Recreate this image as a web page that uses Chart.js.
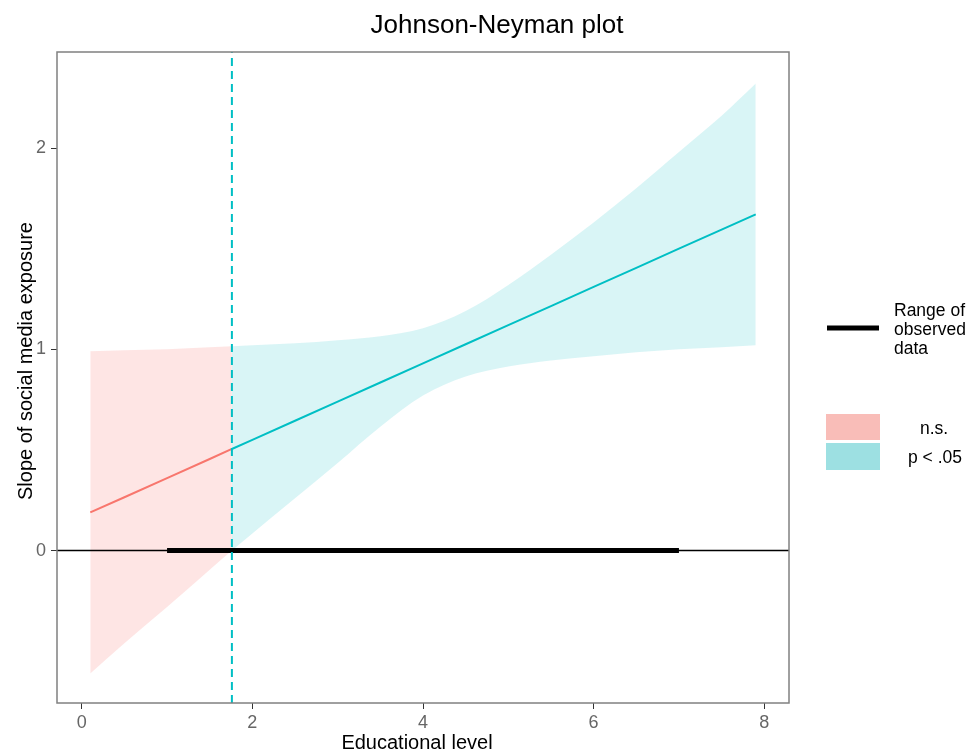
<!DOCTYPE html>
<html>
<head>
<meta charset="utf-8">
<script src="https://cdn.jsdelivr.net/npm/chart.js@4/dist/chart.umd.min.js"></script>
<style>
  html, body { margin: 0; padding: 0; background: #ffffff; }
  #wrap { width: 970px; height: 756px; position: relative; }
</style>
</head>
<body>
<div id="wrap"><canvas id="c" width="970" height="756"></canvas></div>
<script>
// ---- data ----
const moderatorValues = [0.1, 0.5, 1.0, 1.5, 1.76, 2.0, 2.5, 3.0, 3.5, 4.0, 4.5, 5.0, 5.5, 6.0, 6.5, 7.0, 7.5, 7.9];
const slopeValues     = [0.19, 0.265, 0.36, 0.455, 0.505, 0.55, 0.645, 0.74, 0.835, 0.93, 1.025, 1.12, 1.215, 1.31, 1.405, 1.50, 1.595, 1.67];
const lowerCI         = [-0.61, -0.46, -0.28, -0.095, 0.0, 0.085, 0.26, 0.435, 0.615, 0.77, 0.865, 0.915, 0.945, 0.965, 0.985, 1.0, 1.01, 1.02];
const upperCI         = [0.99, 0.995, 1.0, 1.01, 1.015, 1.02, 1.03, 1.045, 1.065, 1.105, 1.19, 1.32, 1.47, 1.63, 1.80, 1.98, 2.16, 2.32];
const jnPoint = 1.76;
const observedRange = [1.0, 7.0];
const xTicks = [0, 2, 4, 6, 8];
const yTicks = [0, 1, 2];
const xLimits = [-0.29, 8.29];
const yLimits = [-0.757, 2.477];
const titleText = 'Johnson-Neyman plot';
const xTitle = 'Educational level';
const yTitle = 'Slope of social media exposure';
const legendRangeLabel = ['Range of', 'observed', 'data'];
const legendSigLabels = ['n.s.', 'p < .05'];

// ---- build series ----
const pts = (ys, test) => moderatorValues.map((x, i) => ({x: x, y: ys[i]})).filter(p => test(p.x));
const isNS = x => x <= jnPoint;
const isSig = x => x >= jnPoint;

const RED = '#F8766D', CYAN = '#00BFC4';
const FONT = "'Liberation Sans', Arial, Helvetica, sans-serif";

const ribbon = { borderWidth: 0, pointRadius: 0, cubicInterpolationMode: 'monotone' };
const datasets = [
  // n.s. ribbon
  Object.assign({ data: pts(upperCI, isNS), fill: '+1', backgroundColor: 'rgba(248,118,109,0.19)', order: 20 }, ribbon),
  Object.assign({ data: pts(lowerCI, isNS), fill: false, order: 21 }, ribbon),
  // significant ribbon
  Object.assign({ data: pts(upperCI, isSig), fill: '+1', backgroundColor: 'rgba(0,191,196,0.15)', order: 18 }, ribbon),
  Object.assign({ data: pts(lowerCI, isSig), fill: false, order: 19 }, ribbon),
  // slope lines
  { data: pts(slopeValues, isNS), borderColor: RED, borderWidth: 2, pointRadius: 0, fill: false, order: 10 },
  { data: pts(slopeValues, isSig), borderColor: CYAN, borderWidth: 2, pointRadius: 0, fill: false, order: 9 },
  // zero line
  { data: [{x: xLimits[0], y: 0}, {x: xLimits[1], y: 0}], borderColor: '#000', borderWidth: 1.5, pointRadius: 0, fill: false, order: 6 },
  // range of observed data
  { data: [{x: observedRange[0], y: 0}, {x: observedRange[1], y: 0}], borderColor: '#000', borderWidth: 5, pointRadius: 0, fill: false, order: 5, borderCapStyle: 'butt' },
  // JN boundary
  { data: [{x: jnPoint, y: yLimits[0]}, {x: jnPoint, y: yLimits[1]}], borderColor: CYAN, borderWidth: 2, borderDash: [8, 5], pointRadius: 0, fill: false, order: 2 }
];

const decor = {
  id: 'decor',
  afterDatasetsDraw(chart) {
    const ctx = chart.ctx, a = chart.chartArea;
    ctx.save();
    ctx.strokeStyle = '#808080';
    ctx.lineWidth = 1.5;
    ctx.strokeRect(a.left, a.top, a.right - a.left, a.bottom - a.top);
    ctx.restore();
  },
  afterDraw(chart) {
    const ctx = chart.ctx;
    ctx.save();
    ctx.fillStyle = '#000';
    ctx.font = '26px ' + FONT;
    ctx.textAlign = 'center';
    ctx.textBaseline = 'alphabetic';
    ctx.fillText(titleText, 497, 33);
    ctx.font = '20px ' + FONT;
    ctx.fillText(xTitle, 417, 749);
    ctx.save();
    ctx.translate(32, 361);
    ctx.rotate(-Math.PI / 2);
    ctx.fillText(yTitle, 0, 0);
    ctx.restore();
    ctx.strokeStyle = '#000';
    ctx.lineWidth = 5;
    ctx.beginPath();
    ctx.moveTo(827, 328);
    ctx.lineTo(879, 328);
    ctx.stroke();
    ctx.font = '17.5px ' + FONT;
    ctx.textAlign = 'left';
    legendRangeLabel.forEach((t, i) => ctx.fillText(t, 894, 316 + i * 19));
    ctx.fillStyle = '#F9BDB8';
    ctx.fillRect(826, 414, 54, 26);
    ctx.fillStyle = '#9DE0E2';
    ctx.fillRect(826, 443, 54, 27);
    ctx.fillStyle = '#000';
    ctx.textAlign = 'center';
    ctx.fillText(legendSigLabels[0], 934, 434);
    ctx.fillText(legendSigLabels[1], 935, 463);
    ctx.restore();
  }
};

new Chart(document.getElementById('c'), {
  type: 'line',
  data: { datasets: datasets },
  options: {
    responsive: false,
    animation: false,
    devicePixelRatio: 1,
    layout: { padding: { left: 0, top: 52, right: 181, bottom: 0 } },
    plugins: { legend: { display: false }, title: { display: false }, tooltip: { enabled: false } },
    elements: { line: { tension: 0 } },
    scales: {
      x: {
        type: 'linear',
        min: xLimits[0], max: xLimits[1],
        afterBuildTicks: s => { s.ticks = xTicks.map(v => ({value: v})); },
        afterFit: s => { s.height = 53; },
        border: { display: false },
        grid: { drawOnChartArea: false, drawTicks: true, tickLength: 6, color: '#333', lineWidth: 1 },
        ticks: { color: '#666', font: { family: FONT, size: 18 }, padding: 3, maxRotation: 0, autoSkip: false }
      },
      y: {
        type: 'linear',
        min: yLimits[0], max: yLimits[1],
        afterBuildTicks: s => { s.ticks = yTicks.map(v => ({value: v})); },
        afterFit: s => { s.width = 57; },
        border: { display: false },
        grid: { drawOnChartArea: false, drawTicks: true, tickLength: 6, color: '#333', lineWidth: 1 },
        ticks: { color: '#666', font: { family: FONT, size: 18 }, padding: 5, autoSkip: false }
      }
    }
  },
  plugins: [decor]
});
</script>
</body>
</html>
